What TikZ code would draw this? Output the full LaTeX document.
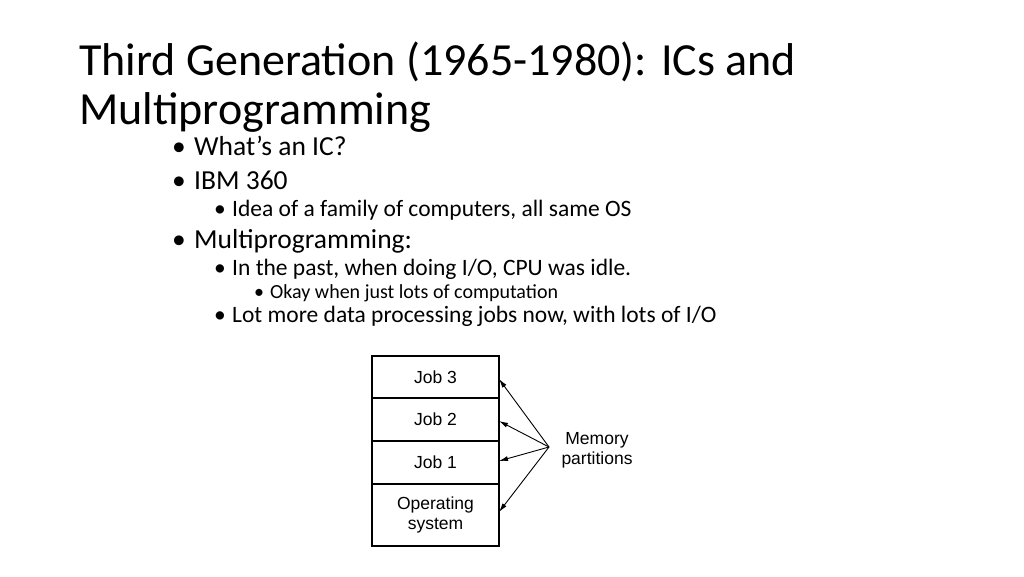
\documentclass[tikz,border=0pt]{standalone}
\usepackage{fontspec}
\usetikzlibrary{arrows.meta}
\setmainfont{Carlito}
\newfontfamily\figfont{Liberation Sans}
\newcommand{\bul}[1]{\makebox[#1][l]{\textbullet}}
\tikzset{
  lvla/.style={anchor=base west,inner sep=0pt,font=\fontsize{27.5}{32}\selectfont},
  lvlb/.style={anchor=base west,inner sep=0pt,font=\fontsize{23.5}{28}\selectfont},
  lvlc/.style={anchor=base west,inner sep=0pt,font=\fontsize{20}{24}\selectfont},
  ttl/.style={anchor=base west,inner sep=0pt,font=\fontsize{46}{54}\selectfont},
  part/.style={draw,line width=1.4pt,minimum width=127pt,inner sep=0pt,outer sep=0pt,align=center,font=\figfont\fontsize{17.5}{20}\selectfont},
}
\begin{document}
\begin{tikzpicture}[x=1pt,y=-1pt]
\useasboundingbox (0,0) rectangle (1024,576);
\node[ttl] (title1) at (79,75) {Third Generation (1965-1980): ICs and};
\node[ttl] (title2) at (79,124) {Multiprogramming};
\node[lvla] (b1) at (172,155) {\bul{22pt}What’s an IC?};
\node[lvla] (b2) at (172,189) {\bul{22pt}IBM 360};
\node[lvlb] (b21) at (214,216) {\bul{18pt}Idea of a family of computers, all same OS};
\node[lvla] (b3) at (172,248) {\bul{22pt}Multiprogramming:};
\node[lvlb] (b31) at (214,275) {\bul{18pt}In the past, when doing I/O, CPU was idle.};
\node[lvlc] (b311) at (254,298) {\bul{16pt}Okay when just lots of computation};
\node[lvlb] (b32) at (214,322) {\bul{18pt}Lot more data processing jobs now, with lots of I/O};
% memory layout
\node[part,minimum height=42pt,anchor=north west] (job3) at (372,356) {Job 3};
\node[part,minimum height=43pt,anchor=north] (job2) at (job3.south) {Job 2};
\node[part,minimum height=43pt,anchor=north] (job1) at (job2.south) {Job 1};
\node[part,minimum height=62pt,anchor=north] (os) at (job1.south) {Operating\\system};
\coordinate (src) at (549,447);
\node[align=center,inner sep=0pt,font=\figfont\fontsize{17.5}{20}\selectfont] (mem) at (597,450) {Memory\\partitions};
\foreach \t/\yy in {job3/379,job2/421,job1/461,os/512}
  \draw[-{Latex[length=9pt,width=5pt]},line width=0.9pt] (src) -- (\t.east |- 0,\yy);
\end{tikzpicture}
\end{document}
